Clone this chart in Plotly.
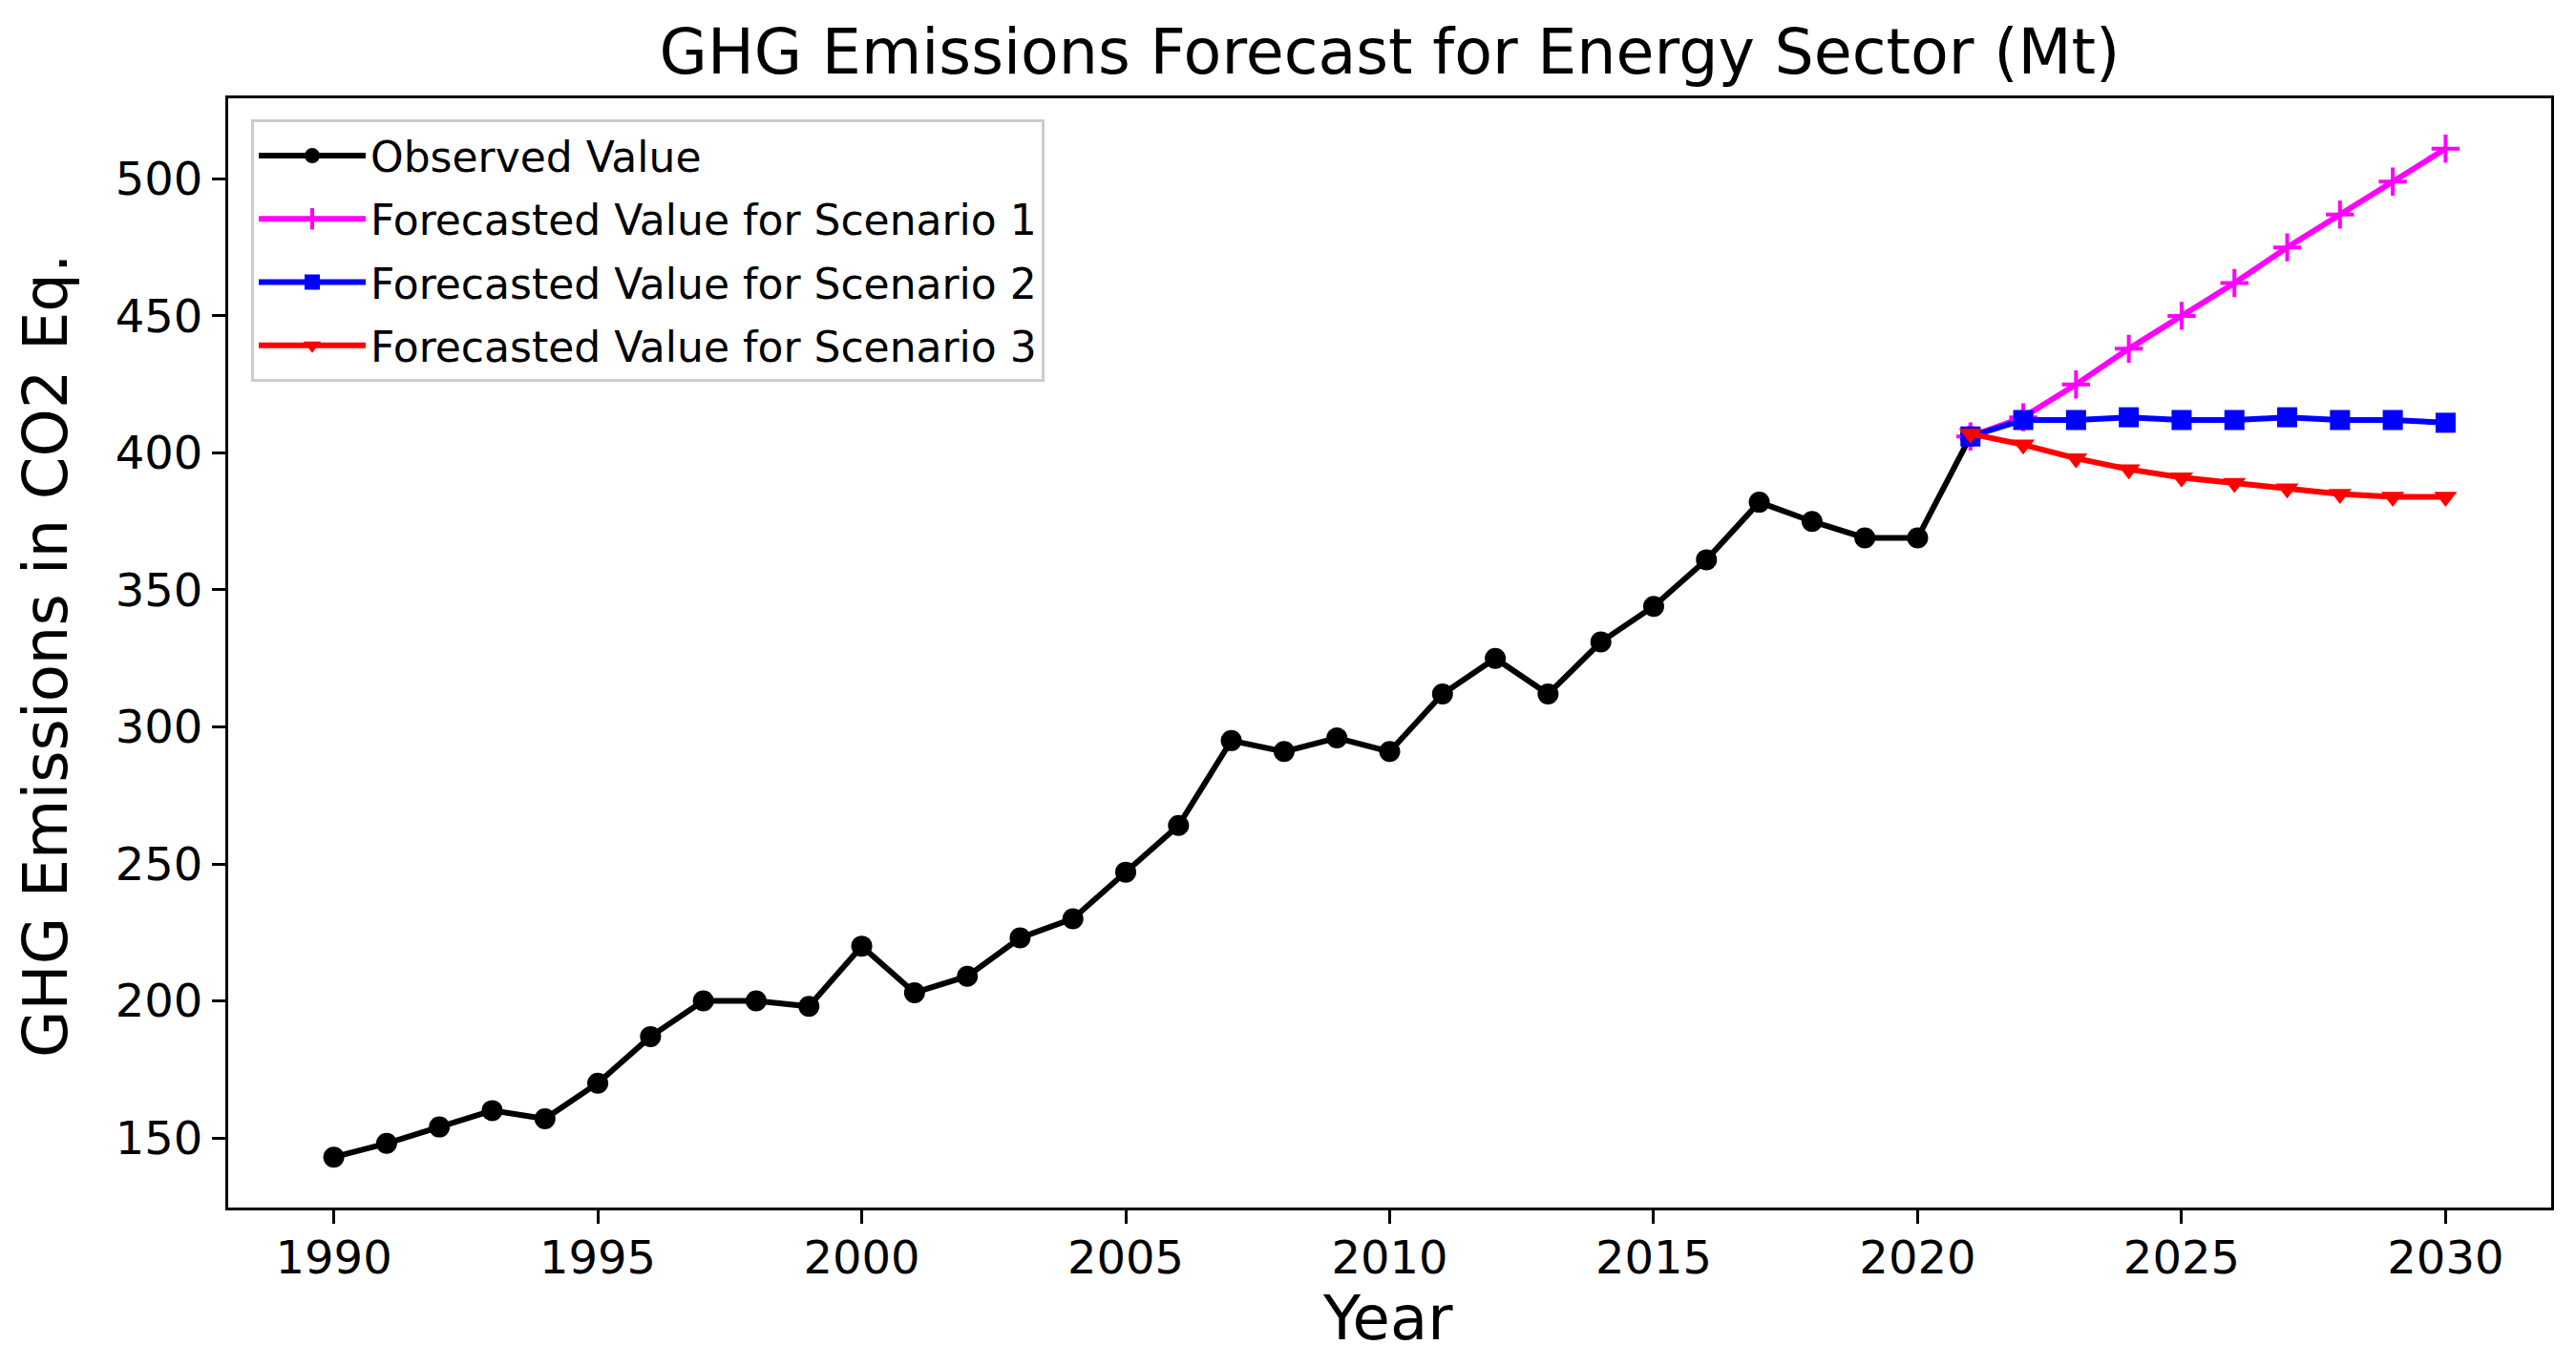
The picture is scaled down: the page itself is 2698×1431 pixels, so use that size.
import plotly.graph_objects as go

years_obs = list(range(1990, 2022))
observed = [143, 148, 154, 160, 157, 170, 187, 200, 200, 198,
            220, 203, 209, 223, 230, 247, 264, 295, 291, 296,
            291, 312, 325, 312, 331, 344, 361, 382, 375, 369,
            369, 406]

years_fc = list(range(2021, 2031))
scenario1 = [406, 413, 425, 438, 450, 462, 475, 487, 499, 511]
scenario2 = [406, 412, 412, 413, 412, 412, 413, 412, 412, 411]
scenario3 = [407, 403, 398, 394, 391, 389, 387, 385, 384, 384]

x_ticks = [1990, 1995, 2000, 2005, 2010, 2015, 2020, 2025, 2030]
y_ticks = [150, 200, 250, 300, 350, 400, 450, 500]

FONT = "DejaVu Sans"
LW = 6

# page has an 8px body margin; figure is sized so that the page is 2698x1431
W, H = 2682, 1415
ML, MR, MT, MB = 231, 18, 95, 158
PW, PH = W - ML - MR, H - MT - MB

# axis ranges with matplotlib-like 5% padding
all_y = observed + scenario1 + scenario2 + scenario3
ymin, ymax = min(all_y), max(all_y)
pad_y = (ymax - ymin) * 0.05
xmin, xmax = years_obs[0], years_fc[-1]
pad_x = (xmax - xmin) * 0.05

fig = go.Figure()
fig.add_trace(go.Scatter(x=years_obs, y=observed, mode="lines+markers",
                         name="Observed Value", legendgroup="g0",
                         line=dict(color="black", width=LW),
                         marker=dict(symbol="circle", size=22, color="black")))
fig.add_trace(go.Scatter(x=years_fc, y=scenario1, mode="lines+markers",
                         name="Forecasted Value for Scenario 1", legendgroup="g1",
                         line=dict(color="magenta", width=LW),
                         marker=dict(symbol="cross-thin", size=21, color="magenta",
                                     line=dict(color="magenta", width=4))))
fig.add_trace(go.Scatter(x=years_fc, y=scenario2, mode="lines+markers",
                         name="Forecasted Value for Scenario 2", legendgroup="g2",
                         line=dict(color="blue", width=LW),
                         marker=dict(symbol="square", size=21, color="blue")))
fig.add_trace(go.Scatter(x=years_fc, y=scenario3, mode="lines+markers",
                         name="Forecasted Value for Scenario 3", legendgroup="g3",
                         line=dict(color="red", width=LW),
                         marker=dict(symbol="triangle-down", size=21, color="red")))

axis_common = dict(showgrid=False, zeroline=False, showline=True, mirror=True,
                   linecolor="black", linewidth=3, ticks="outside",
                   ticklen=14, tickwidth=3, tickcolor="black",
                   tickfont=dict(family=FONT, size=48, color="black"))

fig.update_layout(
    width=W, height=H,
    paper_bgcolor="white", plot_bgcolor="white",
    margin=dict(l=ML, r=MR, t=MT, b=MB),
    title=dict(text="GHG Emissions Forecast for Energy Sector (Mt)",
               xref="paper", x=0.5, xanchor="center",
               yref="container", y=1 - 46.6 / H, yanchor="middle",
               font=dict(family=FONT, size=65, color="black")),
    xaxis=dict(range=[xmin - pad_x, xmax + pad_x], tickvals=x_ticks,
               ticklabelstandoff=-6, **axis_common),
    yaxis=dict(range=[ymin - pad_y, ymax + pad_y], tickvals=y_ticks, **axis_common),
    legend=dict(x=24 / PW, y=1 - 22 / PH, xanchor="left", yanchor="top",
                bgcolor="white", bordercolor="#cccccc", borderwidth=3,
                font=dict(family=FONT, size=44, color="black"),
                itemwidth=112, tracegroupgap=6),
    showlegend=True,
    annotations=[
        dict(text="Year", xref="paper", yref="paper",
             x=(1453 - 8 - ML) / PW, y=(MT + PH - (1381 - 8)) / PH,
             xanchor="center", yanchor="middle", showarrow=False,
             font=dict(family=FONT, size=64, color="black")),
        dict(text="GHG Emissions in CO2 Eq.", xref="paper", yref="paper",
             x=(48 - 8 - ML) / PW, y=(MT + PH - (687 - 8)) / PH,
             xanchor="center", yanchor="middle", textangle=-90, showarrow=False,
             font=dict(family=FONT, size=64, color="black")),
    ],
)

fig.write_html("out.html")
